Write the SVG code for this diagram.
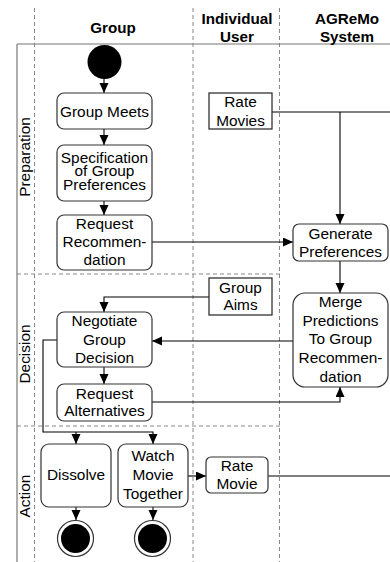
<svg xmlns="http://www.w3.org/2000/svg" width="390" height="562" viewBox="0 0 390 562">
<style>
text{font-family:"Liberation Sans",Arial,Helvetica,sans-serif;font-size:15.4px;fill:#000;text-anchor:middle}
.hdr{font-weight:bold;font-size:15.2px}
.box{fill:#fff;stroke:#333;stroke-width:1.2}
.obj{fill:#fff;stroke:#222;stroke-width:1.2}
.conn{fill:none;stroke:#000;stroke-width:1.1}
.lane{fill:none;stroke:#888;stroke-width:1;stroke-dasharray:4,3}
.frame{fill:none;stroke:#777;stroke-width:1.2}
</style>
<defs>
<marker id="ah" markerUnits="userSpaceOnUse" markerWidth="10" markerHeight="10" refX="10" refY="4.5" orient="auto">
<path d="M0,0 L10,4.5 L0,9 z" fill="#000"/>
</marker>
</defs>
<rect width="390" height="562" fill="#fff"/>
<g id="swimlanes">
<line class="lane" x1="34.5" y1="8" x2="34.5" y2="562"/>
<line class="lane" x1="193" y1="8" x2="193" y2="562"/>
<line class="lane" x1="279.5" y1="8" x2="279.5" y2="562"/>
<line class="lane" x1="17" y1="274" x2="280" y2="274"/>
<line class="lane" x1="17" y1="426" x2="280" y2="426"/>
<line class="frame" x1="17" y1="44" x2="390" y2="44"/>
<line class="frame" x1="17" y1="44" x2="17" y2="562"/>
<text class="hdr" x="113" y="33">Group</text>
<text class="hdr" x="237" y="24">Individual</text>
<text class="hdr" x="237" y="42">User</text>
<text class="hdr" x="347" y="24">AGReMo</text>
<text class="hdr" x="347" y="42">System</text>
<text transform="translate(30,157) rotate(-90)">Preparation</text>
<text transform="translate(30,354) rotate(-90)">Decision</text>
<text transform="translate(30,496) rotate(-90)">Action</text>
</g>
<g id="connectors">
<line class="conn" x1="104" y1="79" x2="104" y2="93" marker-end="url(#ah)"/>
<line class="conn" x1="104" y1="129" x2="104" y2="145" marker-end="url(#ah)"/>
<line class="conn" x1="104" y1="201" x2="104" y2="215" marker-end="url(#ah)"/>
<line class="conn" x1="272" y1="112" x2="390" y2="112"/>
<line class="conn" x1="340" y1="112" x2="340" y2="224" marker-end="url(#ah)"/>
<line class="conn" x1="152" y1="242" x2="293" y2="242" marker-end="url(#ah)"/>
<line class="conn" x1="340" y1="261" x2="340" y2="293" marker-end="url(#ah)"/>
<polyline class="conn" points="209,297 104,297 104,312" marker-end="url(#ah)"/>
<line class="conn" x1="293" y1="341" x2="152" y2="341" marker-end="url(#ah)"/>
<line class="conn" x1="104" y1="367" x2="104" y2="384" marker-end="url(#ah)"/>
<polyline class="conn" points="152,402 340,402 340,387" marker-end="url(#ah)"/>
<polyline class="conn" points="57,340 43,340 43,432 153,432 153,444" marker-end="url(#ah)"/>
<line class="conn" x1="76" y1="432" x2="76" y2="444" marker-end="url(#ah)"/>
<line class="conn" x1="188" y1="476" x2="206" y2="476" marker-end="url(#ah)"/>
<line class="conn" x1="268" y1="476" x2="390" y2="476"/>
<line class="conn" x1="76" y1="507" x2="76" y2="520" marker-end="url(#ah)"/>
<line class="conn" x1="153" y1="507" x2="153" y2="520" marker-end="url(#ah)"/>
</g>
<g id="start">
<circle cx="104.5" cy="62" r="17" fill="#000"/>
</g>
<g id="group-meets">
<rect class="box" x="57" y="93" width="95" height="36" rx="7"/>
<text x="104.5" y="117">Group Meets</text>
</g>
<g id="rate-movies">
<rect class="obj" x="209" y="93" width="63" height="36"/>
<text x="240.5" y="107">Rate</text>
<text x="240.5" y="126">Movies</text>
</g>
<g id="specification">
<rect class="box" x="57" y="145" width="95" height="56" rx="7"/>
<text x="104.5" y="162.5">Specification</text>
<text x="104.5" y="176">of Group</text>
<text x="104.5" y="189.5">Preferences</text>
</g>
<g id="request-recommendation">
<rect class="box" x="57" y="215" width="95" height="55" rx="7"/>
<text x="104.5" y="229">Request</text>
<text x="104.5" y="247">Recommen-</text>
<text x="104.5" y="265">dation</text>
</g>
<g id="generate-preferences">
<rect class="box" x="293" y="224" width="95" height="37" rx="6"/>
<text x="340.5" y="238.5">Generate</text>
<text x="340.5" y="256.5">Preferences</text>
</g>
<g id="group-aims">
<rect class="obj" x="209" y="278" width="63" height="37"/>
<text x="240.5" y="292.5">Group</text>
<text x="240.5" y="310">Aims</text>
</g>
<g id="negotiate">
<rect class="box" x="57" y="312" width="95" height="55" rx="7"/>
<text x="104.5" y="325.5">Negotiate</text>
<text x="104.5" y="344.5">Group</text>
<text x="104.5" y="363">Decision</text>
</g>
<g id="merge">
<rect class="box" x="293" y="293" width="95" height="94" rx="12"/>
<text x="340.5" y="306.5">Merge</text>
<text x="340.5" y="325.5">Predictions</text>
<text x="340.5" y="344">To Group</text>
<text x="340.5" y="363">Recommen-</text>
<text x="340.5" y="381.5">dation</text>
</g>
<g id="request-alternatives">
<rect class="box" x="57" y="384" width="95" height="37" rx="7"/>
<text x="104.5" y="398.5">Request</text>
<text x="104.5" y="416">Alternatives</text>
</g>
<g id="dissolve">
<rect class="box" x="41" y="444" width="70" height="63" rx="8"/>
<text x="76" y="480">Dissolve</text>
</g>
<g id="watch-movie">
<rect class="box" x="118" y="444" width="70" height="63" rx="8"/>
<text x="153" y="461">Watch</text>
<text x="153" y="480">Movie</text>
<text x="153" y="498.5">Together</text>
</g>
<g id="rate-movie">
<rect class="box" x="206" y="457" width="62" height="36" rx="5"/>
<text x="237" y="471">Rate</text>
<text x="237" y="488.5">Movie</text>
</g>
<g id="end-dissolve">
<circle cx="75.5" cy="538.5" r="18" fill="#fff" stroke="#333" stroke-width="1.2"/>
<circle cx="75.5" cy="538.5" r="14.5" fill="#000"/>
</g>
<g id="end-watch">
<circle cx="152.5" cy="538.5" r="18" fill="#fff" stroke="#333" stroke-width="1.2"/>
<circle cx="152.5" cy="538.5" r="14.5" fill="#000"/>
</g>
</svg>
